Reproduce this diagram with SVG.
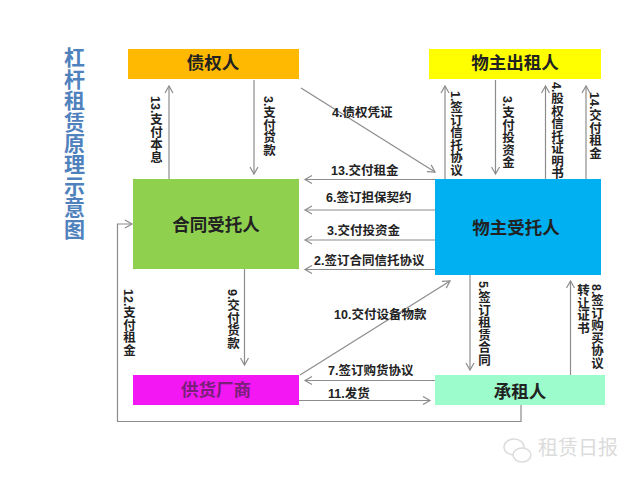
<svg xmlns="http://www.w3.org/2000/svg" width="640" height="480" viewBox="0 0 640 480">
<defs>
<marker id="arr" markerWidth="10" markerHeight="10" refX="8" refY="5" orient="auto" markerUnits="userSpaceOnUse"><path d="M1 1 L8 5 L1 9" fill="none" stroke="#8c8c8c" stroke-width="1.2"/></marker>
</defs>
<style>
text{font-family:"Liberation Sans","Noto Sans CJK SC",sans-serif;font-weight:700;fill:#222}
.l{font-size:12.5px}
.v{font-size:12.5px;writing-mode:vertical-rl}
.n{font-size:17.5px;text-anchor:middle;dominant-baseline:central}
.c line,.c polyline{fill:none;stroke:#8c8c8c;stroke-width:1.2}
.a{marker-end:url(#arr)}
</style>
<rect width="640" height="480" fill="#fff"/>
<text x="73" y="47" style="font-size:21px;writing-mode:vertical-rl;fill:#4f81bd;letter-spacing:.4px">杠杆租赁原理示意图</text>
<g id="connectors" class="c">
<line class="a" x1="169" y1="179" x2="169" y2="86"/>
<line class="a" x1="254" y1="80" x2="254" y2="174"/>
<line class="a" x1="301" y1="88" x2="435" y2="172"/>
<line class="a" x1="445" y1="179" x2="445" y2="86"/>
<line class="a" x1="495.5" y1="80" x2="495.5" y2="174"/>
<line class="a" x1="545.5" y1="179" x2="545.5" y2="86"/>
<line class="a" x1="586" y1="179" x2="586" y2="86"/>
<line class="a" x1="435" y1="179.500" x2="305" y2="179.500"/>
<line class="a" x1="435" y1="210" x2="305" y2="210"/>
<line class="a" x1="435" y1="240" x2="305" y2="240"/>
<line class="a" x1="435" y1="269.500" x2="305" y2="269.500"/>
<line class="a" x1="244.500" y1="269" x2="244.500" y2="365"/>
<line class="a" x1="470" y1="275" x2="470" y2="370"/>
<line class="a" x1="570.500" y1="375" x2="570.500" y2="281"/>
<line class="a" x1="300" y1="375" x2="450" y2="281"/>
<line class="a" x1="435" y1="380.500" x2="305" y2="380.500"/>
<line class="a" x1="299" y1="400.500" x2="430" y2="400.500"/>
<polyline class="a" points="521,405 521,421.500 117.500,421.500 117.500,224 132,224"/>
</g>
<g id="creditor"><rect x="128" y="49" width="171" height="30" fill="#ffb900"/><text class="n" x="213" y="63">债权人</text></g>
<g id="owner-lessor"><rect x="429" y="49" width="172" height="30" fill="#ffff00"/><text class="n" x="515" y="63">物主出租人</text></g>
<g id="contract-trustee"><rect x="133" y="179" width="166" height="90" fill="#8fd14f"/><text class="n" x="216" y="225">合同受托人</text></g>
<g id="owner-trustee"><rect x="435" y="179" width="166" height="96" fill="#00b0f0"/><text class="n" x="516" y="228">物主受托人</text></g>
<g id="supplier"><rect x="133" y="375" width="166" height="30" fill="#f318f3"/><text class="n" x="216" y="390" style="fill:#7a1f7a">供货厂商</text></g>
<g id="lessee"><rect x="435" y="375" width="170" height="30" fill="#9cfccb"/><text class="n" x="520" y="392">承租人</text></g>
<g id="labels">
<text class="l" x="332" y="117">4.债权凭证</text>
<text class="l" x="331" y="175">13.交付租金</text>
<text class="l" x="326" y="202">6.签订担保契约</text>
<text class="l" x="327" y="235">3.交付投资金</text>
<text class="l" x="314" y="265">2.签订合同信托协议</text>
<text class="l" x="334" y="319">10.交付设备物款</text>
<text class="l" x="328" y="375">7.签订购货协议</text>
<text class="l" x="328" y="398">11.发货</text>
<text class="v" x="155" y="96">13.支付本息</text>
<text class="v" x="268" y="96">3.支付贷款</text>
<text class="v" x="455" y="91">1.签订信托协议</text>
<text class="v" x="507" y="96">3.支付投资金</text>
<text class="v" x="556" y="82">4.股权信托证明书</text>
<text class="v" x="594" y="92">14.交付租金</text>
<text class="v" x="232" y="289">9.交付货款</text>
<text class="v" x="128" y="289">12.支付租金</text>
<text class="v" x="483" y="281">5.签订租赁合同</text>
<text class="v" x="596" y="284">8.签订购买协议</text>
<text class="v" x="582" y="284">转让证书</text>
</g>
<g id="watermark">
<ellipse cx="514" cy="447" rx="10" ry="8" fill="#fff" stroke="#dcdcdc" stroke-width="1.500"/>
<ellipse cx="522" cy="455" rx="9" ry="7" fill="#fff" stroke="#dcdcdc" stroke-width="1.500"/>
<text x="538" y="455" style="font-size:20px;font-weight:400;fill:#dcdcdc">租赁日报</text>
</g>
</svg>
